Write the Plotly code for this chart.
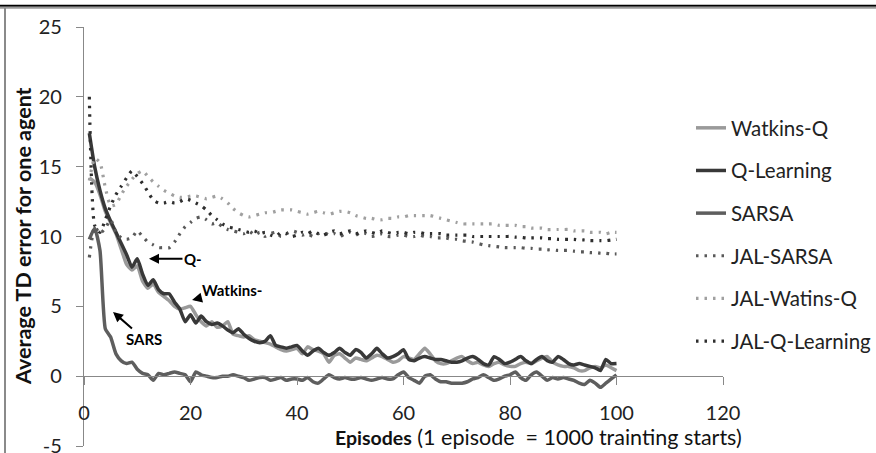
import plotly.graph_objects as go

episodes = list(range(1, 101))

watkins_q = [14.2, 13.9, 13.0, 11.8, 11.0, 10.2, 9.1, 8.0, 7.6, 7.9,
             6.8, 6.3, 6.6, 6.0, 5.7, 5.4, 5.0, 4.8, 4.9, 5.0,
             4.4, 3.9, 3.6, 3.9, 3.5, 3.6, 3.9, 3.0, 2.9, 2.8,
             2.9, 2.6, 2.5, 2.4, 2.3, 2.1, 1.9, 1.8, 1.9, 2.0,
             1.6, 2.1, 1.9, 1.8, 1.6, 1.0, 1.5, 1.6, 1.3, 1.0,
             1.3, 1.2, 1.1, 1.3, 1.5, 1.4, 1.2, 1.0, 1.1, 1.4,
             1.3, 1.2, 1.6, 2.0, 1.6, 1.1, 0.9, 0.9, 1.1, 1.3,
             1.4, 1.1, 0.9, 1.0, 0.8, 0.7, 0.9, 1.0, 0.8, 0.7,
             0.7, 0.9, 1.0, 0.9, 1.1, 1.3, 1.4, 1.0, 0.8, 0.7,
             0.7, 0.6, 0.4, 0.4, 0.6, 0.7, 0.6, 0.8, 0.6, 0.4]

q_learning = [17.4, 15.0, 13.3, 12.0, 11.1, 10.3, 9.5, 8.7, 7.8, 8.4,
              7.3, 6.5, 6.9, 6.2, 5.9, 5.9, 5.3, 4.8, 3.9, 4.4,
              3.8, 4.3, 3.9, 3.7, 3.8, 3.6, 3.3, 3.1, 3.4, 3.0,
              2.7, 2.5, 2.4, 2.5, 2.9, 2.2, 2.1, 2.0, 2.1, 2.2,
              1.8, 1.5, 1.8, 2.0, 1.7, 1.5, 1.7, 2.0, 1.7, 1.5,
              1.9, 1.7, 1.3, 1.6, 2.0, 1.6, 1.3, 1.4, 1.6, 1.9,
              1.2, 1.1, 1.3, 1.4, 1.3, 1.2, 1.2, 1.1, 1.0, 1.0,
              1.1, 1.3, 1.4, 1.2, 0.9, 0.8, 1.4, 1.2, 0.9, 1.0,
              1.2, 1.4, 1.1, 0.9, 1.2, 1.4, 1.1, 1.0, 1.4, 1.2,
              0.9, 0.8, 0.9, 0.8, 0.7, 0.6, 0.4, 1.2, 0.9, 0.9]

sarsa = [9.8, 10.6, 9.0, 3.4, 2.8, 1.6, 1.1, 0.9, 1.0, 0.5,
         0.2, 0.1, -0.3, 0.2, 0.1, 0.2, 0.3, 0.2, 0.1, -0.4,
         0.3, 0.1, 0.0, -0.1, -0.1, 0.0, 0.0, 0.1, 0.0, -0.1,
         -0.3, -0.2, -0.1, -0.1, -0.3, -0.2, -0.1, -0.3, -0.2, -0.2,
         -0.3, -0.1, -0.4, -0.5, -0.2, 0.1, -0.1, -0.2, -0.1, -0.2,
         -0.2, -0.1, -0.2, -0.3, -0.2, -0.1, -0.2, -0.2, 0.1, 0.3,
         -0.1, -0.3, -0.5, 0.0, 0.1, -0.2, -0.4, -0.4, -0.5, -0.5,
         -0.5, -0.4, -0.2, -0.1, 0.1, -0.1, -0.3, -0.2, 0.0, 0.1,
         0.3, -0.1, -0.3, 0.1, 0.3, 0.0, -0.3, -0.1, -0.2, -0.1,
         -0.2, -0.3, -0.5, -0.6, -0.3, -0.5, -0.8, -0.5, -0.2, 0.1]

jal_sarsa = [8.5, 10.7, 10.2, 10.6, 11.2, 10.3, 9.9, 9.8, 9.9, 10.4,
             10.0, 9.6, 9.4, 9.2, 9.2, 9.2, 9.6, 10.2, 10.7, 11.0,
             11.3, 11.4, 11.2, 10.9, 11.0, 10.7, 10.5, 10.4, 10.3, 10.2,
             10.4, 10.1, 10.3, 10.0, 10.2, 10.3, 10.0, 10.2, 10.4, 10.3,
             10.1, 10.2, 10.0, 10.2, 10.3, 10.1, 10.2, 10.0, 10.2, 10.3,
             10.1, 10.3, 10.2, 10.0, 10.1, 10.2, 10.0, 10.0, 10.1, 10.1,
             10.0, 10.0, 10.1, 10.0, 10.0, 9.9, 9.9, 9.9, 9.8, 9.8,
             9.7, 9.65, 9.6, 9.5, 9.4, 9.35, 9.3, 9.25, 9.2, 9.2,
             9.2, 9.2, 9.15, 9.15, 9.1, 9.1, 9.05, 9.05, 9.0, 9.0,
             9.0, 8.95, 8.9, 8.9, 8.85, 8.85, 8.8, 8.8, 8.75, 8.75]

jal_watkins_q = [14.0, 15.6, 15.3, 13.5, 12.2, 12.3, 13.0, 13.6, 14.1, 14.5,
                 14.7, 14.3, 13.9, 13.6, 13.3, 13.1, 12.9, 12.8, 12.8, 12.9,
                 12.9, 12.8, 12.7, 12.8, 12.9, 12.7, 12.4, 12.0, 11.7, 11.5,
                 11.4, 11.5, 11.6, 11.7, 11.7, 11.8, 11.9, 11.9, 11.9, 11.8,
                 11.7, 11.6, 11.7, 11.8, 11.7, 11.6, 11.7, 11.8, 11.8, 11.7,
                 11.5, 11.4, 11.3, 11.3, 11.2, 11.2, 11.3, 11.3, 11.4, 11.4,
                 11.5, 11.5, 11.5, 11.5, 11.5, 11.4, 11.3, 11.2, 11.1, 11.0,
                 10.9, 10.9, 10.9, 10.9, 10.9, 10.9, 10.9, 10.8, 10.8, 10.8,
                 10.8, 10.7, 10.7, 10.6, 10.6, 10.6, 10.5, 10.5, 10.5, 10.5,
                 10.5, 10.4, 10.4, 10.4, 10.3, 10.3, 10.3, 10.2, 10.3, 10.3]

jal_q_learning = [20.0, 10.8, 10.3, 11.2, 12.2, 13.0, 13.6, 14.2, 14.7, 14.3,
                  13.8, 13.2, 12.6, 12.4, 12.4, 12.5, 12.4, 12.5, 12.7, 12.6,
                  12.4, 12.2, 11.9, 11.5, 11.2, 10.9, 10.7, 10.6, 10.5, 10.4,
                  10.3, 10.4, 10.2, 10.3, 10.1, 10.0, 10.3, 10.2, 10.0, 10.1,
                  10.3, 10.2, 10.4, 10.2, 10.1, 10.3, 10.4, 10.2, 10.3, 10.4,
                  10.2, 10.3, 10.4, 10.3, 10.2, 10.4, 10.3, 10.2, 10.3, 10.3,
                  10.2, 10.3, 10.3, 10.2, 10.2, 10.2, 10.2, 10.1, 10.1, 10.1,
                  10.1, 10.1, 10.0, 10.0, 10.0, 10.0, 10.0, 10.0, 10.0, 10.0,
                  9.95, 9.95, 9.9, 9.9, 9.9, 9.9, 9.85, 9.85, 9.8, 9.8,
                  9.8, 9.8, 9.75, 9.75, 9.7, 9.7, 9.7, 9.7, 9.75, 9.8]

x_ticks = [0, 20, 40, 60, 80, 100, 120]
y_ticks = [-5, 0, 5, 10, 15, 20, 25]

series = [
    ("Watkins-Q", watkins_q, "#9a9a9a", 3.5, "solid"),
    ("Q-Learning", q_learning, "#383838", 3.5, "solid"),
    ("SARSA", sarsa, "#5e5e5e", 3.5, "solid"),
    ("JAL-SARSA", jal_sarsa, "#595959", 3.2, "2.5px,6px"),
    ("JAL-Watins-Q", jal_watkins_q, "#a0a0a0", 3.2, "2.5px,6px"),
    ("JAL-Q-Learning", jal_q_learning, "#2e2e2e", 3.2, "2.5px,6px"),
]

W, H = 876, 453
L, R, T, B = 84, 153, 27, 7
PW, PH = W - L - R, H - T - B


def px2paper_x(px):
    return (px - L) / PW


def px2paper_y(py):
    return (H - B - py) / PH


fig = go.Figure()
for i, (name, vals, color, width, dash) in enumerate(series):
    fig.add_trace(go.Scatter(
        x=episodes, y=vals, name=name, mode="lines",
        line=dict(color=color, width=width, dash=dash, shape="spline", smoothing=0.5),
        legendgroup=f"g{i}",
    ))

tick_font = dict(family="Lato, Calibri, sans-serif", size=20, color="#222")
axis_col = "#888888"

fig.update_layout(
    width=W, height=H,
    margin=dict(l=L, r=R, t=T, b=B, pad=0, autoexpand=False),
    paper_bgcolor="white", plot_bgcolor="white",
    showlegend=True,
    legend=dict(
        x=px2paper_x(691), xanchor="left",
        y=px2paper_y(108), yanchor="top",
        font=dict(family="Lato, Calibri, sans-serif", size=20.5, color="#222"),
        bgcolor="rgba(0,0,0,0)", tracegroupgap=13.0, itemwidth=30,
    ),
    xaxis=dict(
        range=[0, 120], tickvals=x_ticks, ticktext=[str(v) for v in x_ticks],
        anchor="free", position=5 / 30, automargin=False,
        showline=True, linecolor=axis_col, linewidth=1.3,
        ticks="outside", ticklen=8, tickcolor=axis_col, tickwidth=1.3,
        showgrid=False, zeroline=False, tickfont=tick_font,
        ticklabelstandoff=11,
    ),
    yaxis=dict(
        range=[-5, 25], tickvals=y_ticks, ticktext=[str(v) for v in y_ticks],
        automargin=False, ticklabeloverflow="allow",
        showline=True, linecolor=axis_col, linewidth=1.3,
        ticks="outside", ticklen=7, tickcolor=axis_col, tickwidth=1.3,
        showgrid=False, zeroline=False, tickfont=tick_font,
        ticklabelstandoff=10,
    ),
)

# page frame pieces (top rule and left border)
fig.add_shape(type="line", xref="paper", yref="paper",
              x0=px2paper_x(0), x1=px2paper_x(W), y0=px2paper_y(5.8), y1=px2paper_y(5.8),
              line=dict(color="black", width=2))
fig.add_shape(type="line", xref="paper", yref="paper",
              x0=px2paper_x(0), x1=px2paper_x(W), y0=px2paper_y(7.8), y1=px2paper_y(7.8),
              line=dict(color="#9a9a9a", width=2))
fig.add_shape(type="line", xref="paper", yref="paper",
              x0=px2paper_x(5), x1=px2paper_x(5), y0=px2paper_y(8), y1=px2paper_y(H + 5),
              line=dict(color="#8a8a8a", width=2))

# axis titles
fig.add_annotation(xref="paper", yref="paper", x=px2paper_x(23), y=px2paper_y(236),
                   text="<b>Average TD error for one agent</b>", textangle=-90,
                   showarrow=False, xanchor="center", yanchor="middle",
                   font=dict(family="Lato, Calibri, sans-serif", size=21.5, color="#111"))
fig.add_annotation(xref="paper", yref="paper", x=px2paper_x(333), y=px2paper_y(437),
                   text="<b>Episodes</b><span style='font-size:21.5px'> (1 episode\u00a0 = 1000 trainting starts)</span>",
                   showarrow=False, xanchor="left", yanchor="middle",
                   font=dict(family="Lato, Calibri, sans-serif", size=19.5, color="#111"))

# arrow labels
ann_font = dict(family="Lato, sans-serif", size=15, color="black")
fig.add_annotation(x=12.2, y=8.4, xref="x", yref="y", text="<b>Q-</b>",
                   showarrow=True, ax=44, ay=0, arrowhead=2, arrowsize=1, arrowwidth=2,
                   arrowcolor="black", font=ann_font)
fig.add_annotation(x=20.3, y=5.45, xref="x", yref="y", text="<b>Watkins-</b>",
                   showarrow=True, ax=40, ay=-10, arrowhead=2, arrowsize=1, arrowwidth=2,
                   arrowcolor="black", font=ann_font)
fig.add_annotation(x=5.45, y=4.6, xref="x", yref="y", text="<b>SARS</b>",
                   showarrow=True, ax=31, ay=27, arrowhead=2, arrowsize=1, arrowwidth=2,
                   arrowcolor="black", font=ann_font)

fig.write_html("out.html",
               config={"displayModeBar": False},
               post_script="document.body.style.margin='0px';document.body.style.overflow='hidden';")
